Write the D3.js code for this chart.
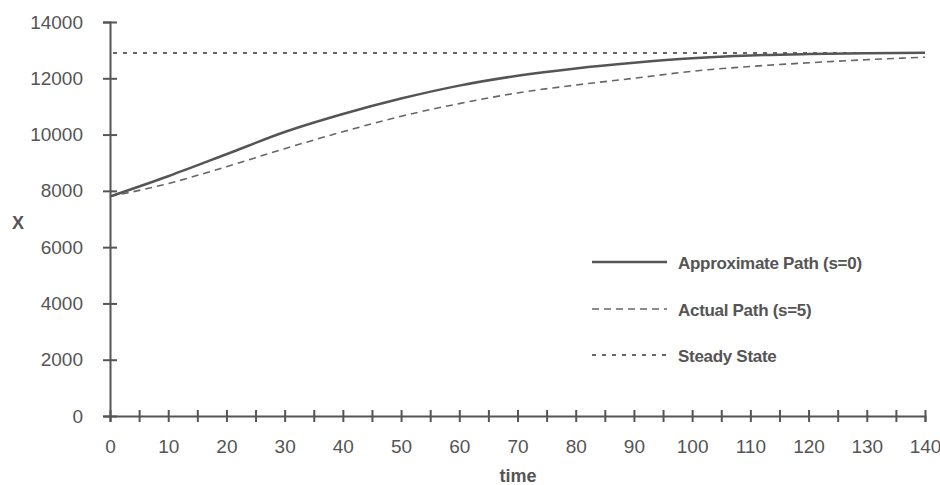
<!DOCTYPE html>
<html>
<head>
<meta charset="utf-8">
<script src="https://cdn.jsdelivr.net/npm/d3@7"></script>
<style>
  body { margin: 0; background: #fff; }
  text { font-family: "Liberation Sans", Arial, sans-serif; fill: #555; }
</style>
</head>
<body>
<svg></svg>
<script>
// data
var times = [0, 10, 20, 30, 40, 50, 60, 70, 80, 90, 100, 110, 120, 130, 140];
var approxPath = [7800, 8520, 9300, 10090, 10730, 11280, 11740, 12090, 12350, 12550, 12710, 12810, 12860, 12890, 12910];
var actualPath = [7800, 8260, 8860, 9500, 10100, 10650, 11100, 11480, 11760, 12000, 12250, 12420, 12550, 12660, 12750];
var steadyState = 12900;
var yTicks = [0, 2000, 4000, 6000, 8000, 10000, 12000, 14000];
var xLabels = [0, 10, 20, 30, 40, 50, 60, 70, 80, 90, 100, 110, 120, 130, 140];
var legendNames = ["Approximate Path (s=0)", "Actual Path (s=5)", "Steady State"];

var svgWidth = 940, svgHeight = 485;
var grey = "#555";

var svg = d3.select("svg")
    .attr("width", svgWidth)
    .attr("height", svgHeight);

// scales
var xScale = d3.scaleLinear()
    .domain([0, 140])
    .range([110, 925]);

var yScale = d3.scaleLinear()
    .domain([0, 14000])
    .range([416, 22]);

// y axis, ticks cross the line
var y_axis = d3.axisLeft(yScale)
    .tickValues(yTicks)
    .tickFormat(d3.format("d"))
    .tickSizeOuter(0)
    .tickSize(7)
    .tickPadding(20);

var gy = svg.append("g")
    .attr("transform", "translate(110,0)")
    .call(y_axis);
gy.select(".domain").attr("stroke", grey).attr("stroke-width", 2);
gy.selectAll(".tick line").attr("x1", 7).attr("x2", -7).attr("stroke", grey).attr("stroke-width", 2);
gy.selectAll(".tick text")
    .attr("font-size", 19)
    .attr("font-family", "Liberation Sans, Arial, sans-serif")
    .attr("fill", grey);

// x axis, a tick every 5, label every 10
var x_axis = d3.axisBottom(xScale)
    .tickValues(d3.range(0, 141, 5))
    .tickSizeOuter(0)
    .tickSize(6)
    .tickPadding(18)
    .tickFormat(function(d) { return xLabels.indexOf(d) >= 0 ? d : ""; });

var gx = svg.append("g")
    .attr("transform", "translate(0,416)")
    .call(x_axis);
gx.select(".domain").attr("stroke", grey).attr("stroke-width", 2);
gx.selectAll(".tick line").attr("y1", -6).attr("y2", 6).attr("stroke", grey).attr("stroke-width", 2);
gx.selectAll(".tick text")
    .attr("font-size", 19)
    .attr("font-family", "Liberation Sans, Arial, sans-serif")
    .attr("fill", grey);

// axis titles
svg.append("text")
    .attr("x", 518).attr("y", 482)
    .attr("text-anchor", "middle")
    .attr("font-size", 18)
    .attr("font-weight", "bold")
    .text("time");

svg.append("text")
    .attr("x", 18).attr("y", 229)
    .attr("text-anchor", "middle")
    .attr("font-size", 18)
    .attr("font-weight", "bold")
    .text("X");

// lines
var line = d3.line()
    .x(function(d, i) { return xScale(times[i]); })
    .y(function(d) { return yScale(d); })
    .curve(d3.curveMonotoneX);

var styles = [
  { dash: null, width: 2.5, color: "#555" },
  { dash: "7,5", width: 1.6, color: "#666" },
  { dash: "4,6", width: 2, color: "#666" }
];

svg.append("line")
    .attr("x1", xScale(0) + 3).attr("x2", xScale(140))
    .attr("y1", yScale(steadyState)).attr("y2", yScale(steadyState))
    .attr("stroke", styles[2].color)
    .attr("stroke-width", styles[2].width)
    .attr("stroke-dasharray", styles[2].dash);

svg.append("path")
    .attr("d", line(actualPath))
    .attr("fill", "none")
    .attr("stroke", styles[1].color)
    .attr("stroke-width", styles[1].width)
    .attr("stroke-dasharray", styles[1].dash);

svg.append("path")
    .attr("d", line(approxPath))
    .attr("fill", "none")
    .attr("stroke", styles[0].color)
    .attr("stroke-width", styles[0].width);

// legend
var legendY = [262, 309, 355];
var legend = svg.append("g");
legendNames.forEach(function(name, i) {
  legend.append("line")
      .attr("x1", 592).attr("x2", 667)
      .attr("y1", legendY[i]).attr("y2", legendY[i])
      .attr("stroke", styles[i].color)
      .attr("stroke-width", styles[i].width)
      .attr("stroke-dasharray", styles[i].dash);
  legend.append("text")
      .attr("x", 678).attr("y", legendY[i] + 7)
      .attr("font-size", 17)
      .attr("font-weight", "bold")
      .attr("letter-spacing", -0.3)
      .text(name);
});
</script>
</body>
</html>
